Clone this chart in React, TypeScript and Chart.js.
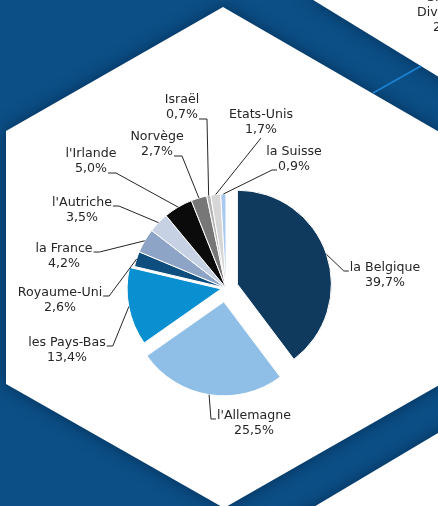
import React, { useEffect, useRef } from "react";
import { Chart, registerables, ArcElement } from "chart.js";

Chart.register(...registerables);

// Explode slices like a spreadsheet pie: shift the whole slice, keep its radius.
const baseArcDraw = (ArcElement.prototype as any).draw;
(ArcElement.prototype as any).draw = function (ctx: CanvasRenderingContext2D) {
  const off = (this.options && this.options.offset) || 0;
  if (!off) return baseArcDraw.call(this, ctx);
  const mid = (this.startAngle + this.endAngle) / 2;
  const saved = this.options;
  ctx.save();
  ctx.translate(Math.cos(mid) * off, Math.sin(mid) * off);
  this.options = { ...saved, offset: 0 };
  try {
    baseArcDraw.call(this, ctx);
  } finally {
    this.options = saved;
    ctx.restore();
  }
};

// ---- data ----
const CATEGORIES = [
  "la Belgique",
  "l'Allemagne",
  "les Pays-Bas",
  "Royaume-Uni",
  "la France",
  "l'Autriche",
  "l'Irlande",
  "Norvège",
  "Israël",
  "Etats-Unis",
  "la Suisse",
];
const SHARES = [39.7, 25.5, 13.4, 2.6, 4.2, 3.5, 5.0, 2.7, 0.7, 1.7, 0.9];
const CORNER_TEXT = ["Si", "Div", "2"];

// ---- styles / layout ----
const COLORS = [
  "#0f3a5e",
  "#8fbfe7",
  "#0a8fd0",
  "#0e4e7e",
  "#8ea4c6",
  "#c6d1e4",
  "#0b0b0b",
  "#777777",
  "#b4b4b4",
  "#d6d6d6",
  "#a9c9ee",
];
const OFFSETS = [12, 14, 5, 0, 0, 0, 0, 0, 0, 0, 0];
// label line-1 centre and where the leader attaches
const LABEL_POS: [number, number][] = [
  [385, 268],
  [254, 416],
  [67, 343],
  [60, 293],
  [64, 249],
  [82, 203],
  [91, 154],
  [157, 137],
  [182, 100],
  [261, 115],
  [294, 152],
];
const LABEL_ATTACH = ["l1", "l1", "r1", "r1", "r1", "r1", "r2", "r2", "r2", "b", "l2"];

const W = 438;
const H = 506;
const CX = 226;
const CY = 288;
const RADIUS = 94;
const FONT = '12.6px "DejaVu Sans"';
const LINE_H = 15;

const fmt = (v: number) => v.toFixed(1).replace(".", ",") + "%";

function poly(ctx: CanvasRenderingContext2D, pts: number[][]) {
  ctx.beginPath();
  pts.forEach((p, i) => (i ? ctx.lineTo(p[0], p[1]) : ctx.moveTo(p[0], p[1])));
  ctx.closePath();
  ctx.fill();
}

const bgPlugin = {
  id: "bgDeco",
  beforeDraw(chart: any) {
    const ctx: CanvasRenderingContext2D = chart.ctx;
    ctx.save();
    ctx.fillStyle = "#0b4f86";
    ctx.fillRect(0, 0, chart.width, chart.height);
    ctx.shadowColor = "rgba(0,25,55,0.6)";
    ctx.shadowBlur = 16;
    ctx.fillStyle = "#ffffff";
    poly(ctx, [
      [223, 7],
      [441, 133],
      [441, 384],
      [224, 508],
      [6, 384],
      [6, 131],
    ]);
    poly(ctx, [
      [305, -5],
      [460, -5],
      [460, 90],
    ]);
    poly(ctx, [
      [460, 420],
      [460, 530],
      [275, 530],
    ]);
    ctx.shadowBlur = 0;
    ctx.shadowColor = "transparent";
    ctx.strokeStyle = "#1c80cf";
    ctx.lineWidth = 2;
    ctx.beginPath();
    ctx.moveTo(373, 93);
    ctx.lineTo(421, 66);
    ctx.stroke();
    ctx.restore();
  },
};

const labelPlugin = {
  id: "pieLabels",
  afterDraw(chart: any) {
    const ctx: CanvasRenderingContext2D = chart.ctx;
    const meta = chart.getDatasetMeta(0);
    ctx.save();
    ctx.font = FONT;
    ctx.fillStyle = "#262626";
    ctx.strokeStyle = "#262626";
    ctx.lineWidth = 1;
    ctx.textBaseline = "middle";
    ctx.textAlign = "center";
    meta.data.forEach((arc: any, i: number) => {
      const [tx, ty] = LABEL_POS[i];
      const l1 = CATEGORIES[i];
      const l2 = fmt(SHARES[i]);
      ctx.fillText(l1, tx, ty);
      ctx.fillText(l2, tx, ty + LINE_H);
      const w1 = ctx.measureText(l1).width;
      const w2 = ctx.measureText(l2).width;
      // arc anchor: outer edge at the slice's mid-angle
      const mid = (arc.startAngle + arc.endAngle) / 2;
      const off = (arc.options.offset || 0) + arc.outerRadius;
      const ax = arc.x + Math.cos(mid) * off;
      const ay = arc.y + Math.sin(mid) * off;
      let px = 0,
        py = 0,
        kx = 0,
        ky = 0;
      const a = LABEL_ATTACH[i];
      if (a === "l1") {
        px = tx - w1 / 2 - 1;
        py = ty + 3;
        kx = px - 5;
        ky = py;
      } else if (a === "r1") {
        px = tx + w1 / 2 + 1;
        py = ty + 3;
        kx = px + 6;
        ky = py;
      } else if (a === "r2") {
        px = tx + w2 / 2 + 1;
        py = ty + LINE_H + 4;
        kx = px + 8;
        ky = py;
      } else if (a === "l2") {
        px = tx - w2 / 2 - 1;
        py = ty + LINE_H + 3;
        kx = px - 5;
        ky = py;
      } else {
        px = tx;
        py = ty + LINE_H + 8;
        kx = px;
        ky = py;
      }
      ctx.beginPath();
      ctx.moveTo(ax, ay);
      ctx.lineTo(kx, ky);
      ctx.lineTo(px, py);
      ctx.stroke();
    });
    // clipped label at the top-right edge
    ctx.textAlign = "left";
    ctx.fillText(CORNER_TEXT[0], 427, -2);
    ctx.fillText(CORNER_TEXT[1], 417, 13);
    ctx.fillText(CORNER_TEXT[2], 433, 28);
    ctx.restore();
  },
};

export default function App() {
  const ref = useRef<HTMLCanvasElement>(null);
  useEffect(() => {
    if (!ref.current) return;
    const chart = new Chart(ref.current, {
      type: "pie",
      data: {
        labels: CATEGORIES,
        datasets: [
          {
            data: SHARES,
            backgroundColor: COLORS,
            borderColor: "#ffffff",
            borderWidth: 1,
            offset: OFFSETS,
            hoverOffset: 0,
          },
        ],
      },
      options: {
        responsive: false,
        animation: false,
        events: [],
        radius: RADIUS,
        layout: {
          padding: { left: 2 * CX - W, top: 2 * CY - H, right: 0, bottom: 0 },
        },
        plugins: {
          legend: { display: false },
          tooltip: { enabled: false },
          title: { display: false },
        },
      } as any,
      plugins: [bgPlugin, labelPlugin],
    });
    return () => chart.destroy();
  }, []);
  return (
    <div style={{ position: "fixed", left: 0, top: 0, width: W, height: H }}>
      <canvas ref={ref} width={W} height={H} style={{ display: "block" }} />
    </div>
  );
}
